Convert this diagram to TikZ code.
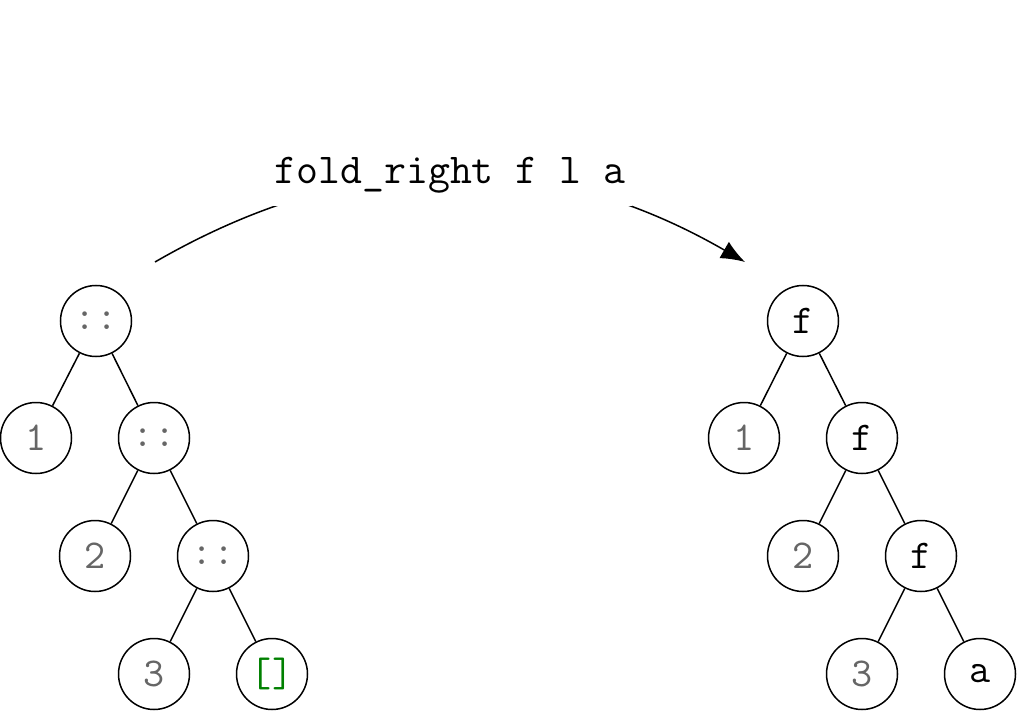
\documentclass[tikz,border=0pt]{standalone}
\usepackage{fontspec}
\usetikzlibrary{arrows.meta}
\definecolor{numgray}{gray}{0.4}
\definecolor{nilgreen}{rgb}{0,0.5,0}
\begin{document}
\begin{tikzpicture}[x=0.5pt,y=-0.5pt,
  tnode/.style={circle,draw,line width=0.75pt,minimum size=35.5pt,inner sep=0pt,font=\ttfamily\fontsize{20.5}{24}\selectfont},
  num/.style={tnode,text=numgray},
  cons/.style={tnode,text=numgray},
  nil/.style={tnode,text=nilgreen},
  edge/.style={line width=0.75pt}]
\useasboundingbox (0,0) rectangle (1017,711);
% left tree
\node[cons] (L0) at (96,321) {::};
\node[num]  (L1) at (36,438) {1};
\node[cons] (L2) at (154,438) {::};
\node[num]  (L3) at (95,556) {2};
\node[cons] (L4) at (213,556) {::};
\node[num]  (L5) at (154,674) {3};
\node[nil]  (L6) at (272,674) {[]};
\draw[edge] (L0) -- (L1); \draw[edge] (L0) -- (L2);
\draw[edge] (L2) -- (L3); \draw[edge] (L2) -- (L4);
\draw[edge] (L4) -- (L5); \draw[edge] (L4) -- (L6);
% right tree
\node[tnode] (R0) at (803,321) {f};
\node[num]   (R1) at (744,438) {1};
\node[tnode] (R2) at (862,438) {f};
\node[num]   (R3) at (803,556) {2};
\node[tnode] (R4) at (921,556) {f};
\node[num]   (R5) at (862,674) {3};
\node[tnode] (R6) at (980,674) {a};
\draw[edge] (R0) -- (R1); \draw[edge] (R0) -- (R2);
\draw[edge] (R2) -- (R3); \draw[edge] (R2) -- (R4);
\draw[edge] (R4) -- (R5); \draw[edge] (R4) -- (R6);
% arrow
\coordinate (s) at (155,262);
\coordinate (e) at (745,262);
\draw[edge,-{Latex[length=12pt,width=9.5pt]}] (s) to[bend left=30] node[fill=white,inner xsep=3pt,inner ysep=6pt,font=\ttfamily\fontsize{21.3}{25}\selectfont] (lbl) {fold\_right f l a} (e);
\end{tikzpicture}
\end{document}
